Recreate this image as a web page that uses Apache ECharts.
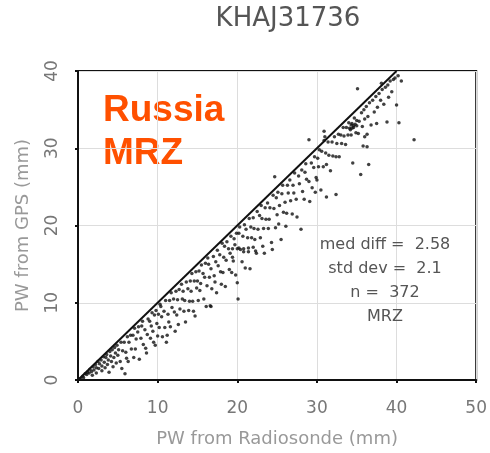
<!DOCTYPE html>
<html><head><meta charset="utf-8">
<script src="https://cdn.jsdelivr.net/npm/echarts@6/dist/echarts.min.js"></script>
<style>html,body{margin:0;padding:0;background:#fff}#c{width:490px;height:453px}</style>
</head><body><div id="c"></div>
<script>
const title = "KHAJ31736";
const xTicks = [0, 10, 20, 30, 40, 50];
const yTicks = [0, 10, 20, 30, 40];
// [PW from radiosonde, PW from GPS] in mm
const pwPairs = [
[0.3,0.2],[0.6,0.5],[0.7,0.3],[0.9,0.8],[1.1,0.7],[1.2,1.0],[1.4,0.9],[1.5,1.4],[1.7,1.1],[1.8,0.6],[1.9,1.7],[2.0,1.3],[2.2,2.0],[2.3,1.6],[2.3,0.9],[2.5,2.4],[2.6,1.5],[2.7,2.1],[2.9,2.6],[3.0,1.8],[3.0,1.2],[3.2,3.0],[3.3,2.3],[3.4,1.6],[3.5,2.9],[3.6,3.3],[3.7,2.0],[3.8,2.6],[3.9,1.0],[4.0,3.7],[4.1,3.1],[4.2,2.4],[4.3,3.9],[4.4,1.7],[4.5,2.9],[4.6,4.2],[4.7,3.5],[4.8,2.2],[4.9,4.5],[5.0,3.2],
[5.1,3.9],[5.3,2.4],[5.4,4.9],[5.6,3.8],[5.5,1.5],[5.8,4.9],[5.9,0.8],[6.0,3.6],[6.2,5.6],[6.1,2.8],[6.4,4.9],[6.3,2.4],[6.6,5.8],[6.7,4.0],[6.9,5.8],[7.0,2.9],[7.1,6.7],[7.3,5.3],[7.2,4.0],[7.5,6.2],[7.6,6.9],[7.7,2.7],[7.9,5.4],[8.0,7.0],[8.2,4.6],[8.1,7.6],[8.4,6.5],[8.5,4.1],[8.6,3.5],[8.8,7.9],[8.7,5.9],[9.0,7.6],[9.1,5.4],[9.3,8.7],[9.2,7.0],[9.5,4.9],[9.6,8.4],[9.4,6.3],[9.8,9.0],[9.9,7.3],[10.0,5.7],[9.7,4.5],
[10.1,8.5],[10.3,9.8],[10.2,6.8],[10.5,8.2],[10.6,5.6],[10.4,9.5],[10.8,8.9],[10.9,6.8],[11.0,10.3],[11.2,5.8],[11.1,4.9],[11.3,8.5],[11.5,10.3],[11.4,7.5],[11.7,11.3],[11.8,9.4],[11.6,6.9],[12.0,10.5],[12.1,8.8],[12.3,11.5],[12.2,6.3],[12.5,10.4],[12.4,8.4],[12.7,11.7],[12.8,9.2],[12.6,7.2],[13.0,12.4],[13.1,10.5],[13.3,8.9],[13.2,11.5],[13.5,7.5],[13.6,12.7],[13.4,10.3],[13.8,11.8],[13.9,9.0],[14.1,12.8],[14.0,10.2],[14.3,13.8],[14.2,11.5],[14.5,8.9],[14.6,12.8],[14.4,10.2],[14.8,14.0],[14.9,11.9],[14.7,8.3],[15.0,12.8],
[15.2,14.1],[15.1,10.3],[15.4,12.5],[15.5,14.9],[15.3,11.6],[15.7,13.8],[15.8,10.5],[16.0,15.1],[15.9,13.3],[16.2,12.2],[16.1,9.5],[16.4,15.0],[16.5,13.3],[16.3,15.8],[16.7,14.4],[16.8,11.8],[16.6,9.6],[17.0,16.0],[17.1,13.5],[17.3,15.3],[17.2,12.7],[17.5,16.8],[17.6,14.8],[17.4,11.3],[17.8,16.2],[17.9,14.0],[18.1,17.7],[18.0,12.4],[18.3,15.9],[18.4,17.3],[18.2,13.9],[18.6,15.5],[18.7,17.9],[18.5,12.1],[18.9,17.0],[19.0,14.3],[19.2,18.6],[19.1,16.4],[19.4,15.9],[19.3,13.9],[19.6,18.3],[19.7,17.5],[19.5,15.4],[19.9,19.0],[19.8,13.6],[20.0,17.0],
[19.4,17.0],[20.2,17.1],[20.8,17.0],[21.4,17.1],[22.0,17.2],[20.0,12.6],[20.1,10.5],[16.7,9.5],
[20.2,19.0],[20.4,16.9],[20.3,19.8],[20.6,15.3],[20.7,18.6],[20.9,20.1],[20.8,16.6],[21.1,19.5],[21.0,14.5],[21.3,18.4],[21.5,20.9],[21.4,16.6],[21.7,19.8],[21.8,18.4],[21.6,14.4],[22.0,21.0],[22.1,19.6],[22.3,16.7],[22.2,18.2],[22.5,21.8],[22.6,19.5],[22.4,16.4],[22.8,21.3],[22.9,18.4],[23.1,20.9],[23.0,22.6],[23.3,19.6],[23.2,17.3],[23.5,22.3],[23.6,20.8],[23.4,16.4],[23.8,22.9],[23.9,19.6],[24.1,22.3],[24.0,20.8],[24.3,17.8],[24.4,16.9],[24.5,23.9],[24.6,22.2],[24.7,26.3],[24.8,19.7],[24.9,23.6],[25.0,21.4],
[25.1,24.3],[25.3,22.6],[25.2,20.2],[25.5,18.2],[25.6,24.1],[25.8,21.7],[25.7,25.2],[26.0,23.0],[26.1,19.9],[26.3,25.2],[26.4,24.2],[26.2,21.6],[26.6,25.9],[26.7,23.2],[26.9,21.5],[27.0,25.2],[27.2,26.8],[27.1,24.2],[27.4,23.4],[27.5,21.1],[27.7,26.4],[27.8,25.4],[28.0,19.5],[28.1,27.2],[28.2,24.4],[28.4,23.4],[28.5,26.9],[28.7,26.0],[28.6,28.0],[29.0,31.1],[29.1,23.1],[29.0,25.7],[29.3,28.1],[29.4,24.9],[29.6,27.5],[29.7,28.9],[29.9,26.2],[29.8,24.3],
[30.0,25.9],[30.1,28.7],[30.3,29.8],[30.2,27.6],[30.5,24.6],[30.6,29.6],[30.8,27.6],[30.9,31.0],[30.9,32.2],[31.0,31.5],[31.1,29.4],[31.2,27.9],[31.2,23.7],[31.4,30.8],[31.5,29.1],[31.7,27.1],[31.9,30.8],[32.0,29.0],[32.2,31.5],[32.4,28.9],[32.4,24.0],[32.5,30.6],[32.7,31.8],[32.8,28.9],[33.0,31.7],[33.1,30.6],[33.3,32.7],[33.4,31.6],[33.6,30.5],[33.7,32.7],[33.9,31.7],[34.0,33.3],[34.1,32.6],[34.3,31.7],[34.4,33.2],[34.5,28.1],[34.6,32.7],[34.7,33.9],[34.9,32.0],[35.0,33.6],
[34.2,32.4],[34.6,32.9],[34.8,33.1],[35.0,32.9],[34.4,32.6],[34.3,33.0],
[35.1,37.7],[35.2,31.9],[35.3,33.5],[35.5,26.6],[35.6,34.6],[35.7,32.8],[35.9,35.0],[36.0,33.8],[36.3,30.2],[36.5,27.9],[36.2,35.4],[36.4,34.1],[36.6,35.9],[36.8,33.0],[37.0,36.2],[37.2,34.7],[37.4,36.7],[37.6,35.3],[37.8,37.1],[38.0,36.2],[38.1,38.4],[38.2,37.6],[38.4,35.7],[38.6,37.9],[38.8,33.4],[38.9,38.2],[39.0,36.6],[39.2,38.7],[39.4,37.3],[39.6,38.9],[40.0,35.6],[40.3,33.3],[40.6,38.7],[40.2,39.4],[39.8,39.1],[42.2,31.1],
[36.0,31.5],[36.3,31.8],[35.8,30.3],[37.5,33.2]
];
const oneToOne = [[0, 0], [40, 40]];
const statsLines = ["med diff =  2.58", "std dev =  2.1", "n =  372", "MRZ"];
const stationLines = ["Russia", "MRZ"];

const chart = echarts.init(document.getElementById('c'), null, {renderer: 'canvas'});
const gray = '#777';
const font = 'Liberation Sans, Arial, sans-serif';
const wide = 'DejaVu Sans, sans-serif';
chart.setOption({
  animation: false,
  title: {text: title, left: 283, top: 1, textAlign: 'center',
    textStyle: {fontFamily: wide, fontSize: 26, fontWeight: 'normal', color: '#555'}},
  grid: {left: 78, right: 3, top: 71, bottom: 72, show: true, borderColor: '#111', borderWidth: 2},
  xAxis: {type: 'value', min: 0, max: 50, interval: 10,
    name: 'PW from Radiosonde (mm)', nameLocation: 'middle', nameGap: 50,
    nameTextStyle: {fontFamily: wide, fontSize: 18, color: '#999'},
    axisLine: {show: true, onZero: false, lineStyle: {color: '#111', width: 2}},
    axisTick: {show: true, inside: false, length: 3, lineStyle: {color: '#111', width: 2}},
    axisLabel: {fontFamily: wide, fontSize: 17, color: gray, margin: 20,
      formatter: v => xTicks.includes(v) ? String(v) : ''},
    splitLine: {show: true, lineStyle: {color: '#ddd', width: 1}}},
  yAxis: {type: 'value', min: 0, max: 40, interval: 10,
    name: 'PW from GPS (mm)', nameLocation: 'middle', nameGap: 46, nameRotate: 90,
    nameTextStyle: {fontFamily: wide, fontSize: 18, color: '#999'},
    axisLine: {show: true, onZero: false, lineStyle: {color: '#111', width: 2}},
    axisTick: {show: true, inside: false, length: 3, lineStyle: {color: '#111', width: 2}},
    axisLabel: {fontFamily: wide, fontSize: 17, color: gray, rotate: 90, margin: 17,
      formatter: v => yTicks.includes(v) ? String(v) : ''},
    splitLine: {show: true, lineStyle: {color: '#ddd', width: 1}}},
  series: [
    {type: 'line', data: oneToOne, symbol: 'none', silent: true,
      lineStyle: {color: '#111', width: 2}, z: 3},
    {type: 'scatter', data: pwPairs, symbol: 'circle', symbolSize: 3.5,
      itemStyle: {color: '#111'}, z: 4}
  ],
  graphic: [
    {type: 'text', left: 103, top: 89, style: {text: stationLines.join('\n'),
      font: 'bold 37px ' + font, fill: '#FF5000', lineHeight: 43}},
    {type: 'text', x: 385, y: 233, style: {text: statsLines.join('\n'),
      font: '16px ' + wide, fill: '#555', align: 'center', lineHeight: 24}, z: 10}
  ]
});
</script></body></html>
